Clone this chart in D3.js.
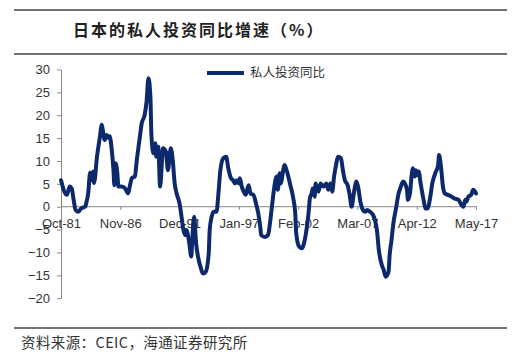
<!DOCTYPE html>
<html><head><meta charset="utf-8">
<script src="https://cdn.jsdelivr.net/npm/d3@7"></script>
<style>body{margin:0;background:#fff}svg{display:block}</style>
</head><body><svg id="c" width="519" height="356"></svg>
<script>
const dates = ["1981-10","1982-04","1982-07","1982-09","1982-11","1983-01","1983-04","1983-07","1983-11","1983-12",
"1984-02","1984-04","1984-06","1984-07","1984-08","1984-11","1985-02","1985-04","1985-05","1985-07",
"1985-09","1985-11","1985-12","1986-02","1986-04","1986-05","1986-06","1986-08","1986-09","1986-12",
"1987-04","1987-07","1987-09","1987-11","1988-02","1988-04","1988-06","1988-07","1988-09","1988-12",
"1989-02","1989-04","1989-06","1989-07","1989-09","1989-11","1989-12","1990-02","1990-04","1990-06",
"1990-07","1990-10","1990-12","1991-03","1991-05","1991-07","1991-09","1991-12","1992-02","1992-04",
"1992-06","1992-07","1992-10","1992-12","1993-01","1993-03","1993-05","1993-07","1993-10","1993-12",
"1994-03","1994-06","1994-07","1994-09","1994-11","1995-02","1995-04","1995-06","1995-09","1995-12",
"1996-02","1996-05","1996-07","1996-09","1996-11","1997-01","1997-02","1997-04","1997-06","1997-08",
"1997-11","1998-01","1998-04","1998-07","1998-09","1998-11","1998-12","1999-04","1999-07","1999-09",
"1999-11","2000-02","2000-04","2000-05","2000-07","2000-08","2000-11","2000-12","2001-02","2001-06",
"2001-09","2001-11","2001-12","2002-03","2002-06","2002-08","2002-11","2003-01","2003-02","2003-04",
"2003-05","2003-07","2003-08","2003-11","2004-01","2004-04","2004-07","2004-09","2004-11","2005-01",
"2005-03","2005-05","2005-07","2005-10","2005-12","2006-02","2006-05","2006-07","2006-09","2006-11",
"2007-02","2007-04","2007-06","2007-08","2007-11","2008-01","2008-04","2008-07","2008-09","2008-11",
"2009-01","2009-04","2009-06","2009-08","2009-11","2009-12","2010-02","2010-04","2010-07","2010-09",
"2010-11","2011-02","2011-06","2011-07","2011-09","2011-11","2011-12","2012-02","2012-03","2012-05",
"2012-06","2012-08","2012-11","2013-01","2013-03","2013-06","2013-08","2013-11","2014-02","2014-03",
"2014-05","2014-07","2014-09","2014-12","2015-04","2015-07","2015-11","2016-02","2016-04","2016-06",
"2016-07","2016-09","2016-12","2017-02","2017-04","2017-05"];
const values = [5.8,2.6,4.4,4.0,1.5,-0.7,-1.1,-0.3,0.0,0.8,
3.0,7.4,5.8,7.7,5.2,10.9,15.3,17.9,16.8,14.6,
15.7,15.0,15.4,12.8,8.0,4.7,9.5,7.3,4.4,4.4,
4.0,2.9,4.7,6.3,6.6,10.2,13.5,15.0,18.2,20.0,
23.0,28.1,24.0,16.0,11.7,13.9,10.9,13.1,4.4,10.2,
12.8,12.0,8.0,12.8,10.2,5.1,2.9,0.7,-2.2,-5.1,
-6.2,-5.1,-8.0,-10.9,-7.3,-2.2,-8.0,-10.9,-13.5,-14.6,
-14.2,-10.2,-5.1,-2.2,-1.1,-1.1,2.9,8.0,10.6,10.9,
8.5,6.2,5.8,5.1,5.8,5.1,6.2,4.4,3.3,2.6,
4.7,2.9,2.6,0.4,-1.5,-4.4,-6.2,-6.6,-6.2,-3.6,
0.0,5.1,6.6,3.7,7.3,5.1,8.4,9.1,8.0,4.7,
1.8,-1.5,-5.8,-8.7,-9.1,-8.0,-4.4,-0.7,1.8,3.0,
4.0,2.2,5.1,3.3,5.1,4.4,5.1,3.7,5.1,3.3,
6.6,9.1,10.9,10.6,8.0,5.8,4.7,2.6,0.0,2.6,
5.5,4.0,1.1,-0.4,-1.1,-0.7,-1.1,-1.8,-2.9,-5.1,
-9.5,-12.7,-13.8,-15.3,-14.2,-10.9,-7.3,-3.6,0.0,2.6,
4.0,5.5,3.7,1.5,2.9,7.3,8.4,6.6,8.0,6.9,
7.7,5.1,1.5,-0.4,-0.4,2.2,5.1,7.3,9.1,11.3,
8.7,4.4,2.9,2.6,2.2,1.8,1.5,0.4,0.0,1.5,
1.1,2.2,2.6,3.7,3.3,2.9];
const yTicks = [-20,-15,-10,-5,0,5,10,15,20,25,30];
const xTickDates = ["1981-10","1986-11","1991-12","1997-01","2002-02","2007-03","2012-04","2017-05"];
const xTickLabels = ["Oct-81","Nov-86","Dec-91","Jan-97","Feb-02","Mar-07","Apr-12","May-17"];
const seriesName = "私人投资同比";
const title = "日本的私人投资同比增速（%）";
const source = "资料来源：CEIC，海通证券研究所";

const parse = d3.timeParse("%Y-%m");
const data = dates.map((d,i)=>({t:parse(d), v:values[i]}));
const svg = d3.select("#c");
const lineColor = "#0c2a6b";
const textColor = "#333";
const latin = "'Liberation Sans', Arial, sans-serif";
const cjk = "'Noto Sans CJK SC', sans-serif";

const x = d3.scaleTime().domain([parse(xTickDates[0]), parse(xTickDates[xTickDates.length-1])]).range([61, 476]);
const y = d3.scaleLinear().domain([-20, 30]).range([298.2, 69.5]);

// rules
[10, 54, 328].forEach(yy=>{
  svg.append("line").attr("x1",14).attr("x2",507).attr("y1",yy).attr("y2",yy)
    .attr("stroke","#444").attr("stroke-width",1.5);
});
svg.append("text").attr("x",73).attr("y",30).attr("dy","0.35em")
  .attr("font-family",cjk).attr("font-weight",700).attr("font-size",16)
  .attr("letter-spacing",2).attr("fill","#222").text(title);
svg.append("text").attr("x",21).attr("y",343).attr("dy","0.35em")
  .attr("font-family",cjk).attr("font-size",14.5).attr("letter-spacing",0.4)
  .attr("fill",textColor).text(source);

// y axis
const ya = svg.append("g").attr("transform","translate(61,0)")
  .call(d3.axisLeft(y).tickValues(yTicks).tickSize(4).tickSizeOuter(0).tickPadding(7));
ya.selectAll("text").attr("font-family",latin).attr("font-size",13).attr("fill",textColor);
ya.selectAll("line,path").attr("stroke","#888");

// x axis at zero
const xa = svg.append("g").attr("transform",`translate(0,${y(0)})`)
  .call(d3.axisBottom(x).tickValues(xTickDates.map(parse)).tickFormat((d,i)=>xTickLabels[i])
    .tickSize(3).tickSizeOuter(0).tickPadding(9));
xa.select("path").attr("d",`M${x.range()[0]},0H${x.range()[1]+1}`);
xa.selectAll("text").attr("font-family",latin).attr("font-size",13).attr("fill",textColor);
xa.selectAll("line,path").attr("stroke","#888");

// series
svg.append("path").datum(data)
  .attr("d", d3.line().x(d=>x(d.t)).y(d=>y(d.v)).curve(d3.curveMonotoneX))
  .attr("fill","none").attr("stroke",lineColor).attr("stroke-width",4)
  .attr("stroke-linejoin","round").attr("stroke-linecap","round");

// legend
svg.append("line").attr("x1",207).attr("x2",244).attr("y1",73).attr("y2",73)
  .attr("stroke",lineColor).attr("stroke-width",4);
svg.append("text").attr("x",250).attr("y",73).attr("dy","0.35em")
  .attr("font-family",cjk).attr("font-size",12.5).attr("fill",textColor).text(seriesName);
</script></body></html>
